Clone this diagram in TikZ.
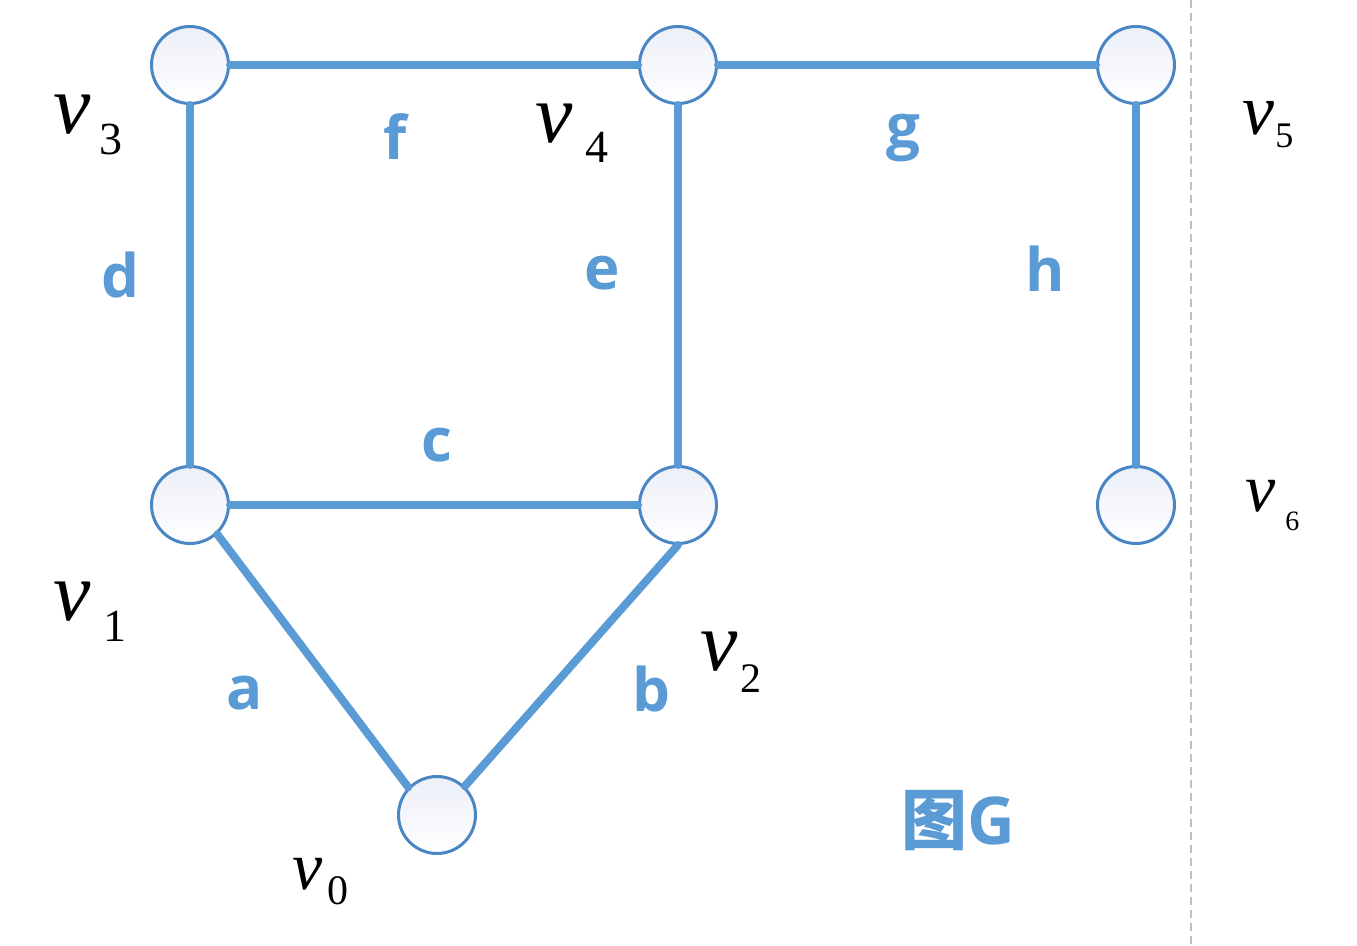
\documentclass[tikz,border=0pt]{standalone}
\usepackage{fontspec}
\setmainfont{Liberation Serif}
\newfontfamily\lblfont{Open Sans}
\newfontfamily\cjkfont{Noto Sans CJK SC}
\definecolor{edgeblue}{HTML}{5B9BD5}
\definecolor{rimblue}{HTML}{4A86C4}
\definecolor{fillblue}{HTML}{ECEFF8}
\definecolor{dashgray}{HTML}{BFBFBF}
\tikzset{
  vert/.style={circle, draw=rimblue, line width=1.5pt, minimum size=38.5pt, inner sep=0pt,
    top color=fillblue, bottom color=white},
  edgeline/.style={draw=edgeblue, line width=4pt, line cap=round},
  elab/.style={text=edgeblue, font=\lblfont\bfseries\fontsize{30}{30}\selectfont, anchor=base, inner sep=0pt},
  vname/.style={anchor=base west, inner sep=0pt},
  vbig/.style={vname, font=\itshape\fontsize{#1}{#1}\selectfont},
  vsub/.style={vname, font=\fontsize{#1}{#1}\selectfont},
}
\begin{document}
\begin{tikzpicture}[x=0.5pt,y=-0.5pt]
\useasboundingbox (0,0) rectangle (1357,946);

% dashed separator
\coordinate (dtop) at (1191,0);
\coordinate (dbot) at (1191,946);
\draw[dashgray, line width=0.6pt, dash pattern=on 4pt off 2.5pt] (dtop) -- (dbot);

% vertices
\node[vert] (v3) at (190,65) {};
\node[vert] (v4) at (678,65) {};
\node[vert] (v5) at (1136,65) {};
\node[vert] (v1) at (190,505) {};
\node[vert] (v2) at (678,505) {};
\node[vert] (v6) at (1136,505) {};
\node[vert] (v0) at (437,815) {};

% edges
\draw[edgeline] (v3) -- (v4);
\draw[edgeline] (v4) -- (v5);
\draw[edgeline] (v3) -- (v1);
\draw[edgeline] (v4) -- (v2);
\draw[edgeline] (v5) -- (v6);
\draw[edgeline] (v1) -- (v2);
\draw[edgeline] (v1.-47) -- (v0.136);
\draw[edgeline] (v2.south) -- (v0.46);

% edge labels
\node[elab] (lf) at (395,160) {f};
\node[elab] (lg) at (903,148) {g};
\node[elab] (ld) at (120,298) {d};
\node[elab] (le) at (602,290) {e};
\node[elab] (lh) at (1045,292) {h};
\node[elab] (lc) at (437,462) {c};
\node[elab] (la) at (245,710) {a};
\node[elab] (lb) at (651,712) {b};

% title
\node[anchor=base, inner sep=0pt, text=edgeblue] (title) at (958,845)
  {{\cjkfont\bfseries\fontsize{33}{33}\selectfont 图}{\lblfont\bfseries\fontsize{33}{33}\selectfont G}};

% vertex names
\node[vbig=42] (n3) at (53,134) {v};
\node[vsub=23] (s3) at (99,155) {3};
\node[vbig=42] (n4) at (535,143) {v};
\node[vsub=23] (s4) at (585,163) {4};
\node[vbig=36] (n5) at (1242,135) {v};
\node[vsub=18] (s5) at (1275,148) {5};
\node[vbig=34] (n6) at (1245,512) {v};
\node[vsub=14] (s6) at (1285,531) {6};
\node[vbig=42] (n1) at (53,621) {v};
\node[vsub=23] (s1) at (103,642) {1};
\node[vbig=42] (n2) at (700,671) {v};
\node[vsub=21] (s2) at (740,693) {2};
\node[vbig=34] (n0) at (292,890) {v};
\node[vsub=21] (s0) at (327,905) {0};
\end{tikzpicture}
\end{document}
